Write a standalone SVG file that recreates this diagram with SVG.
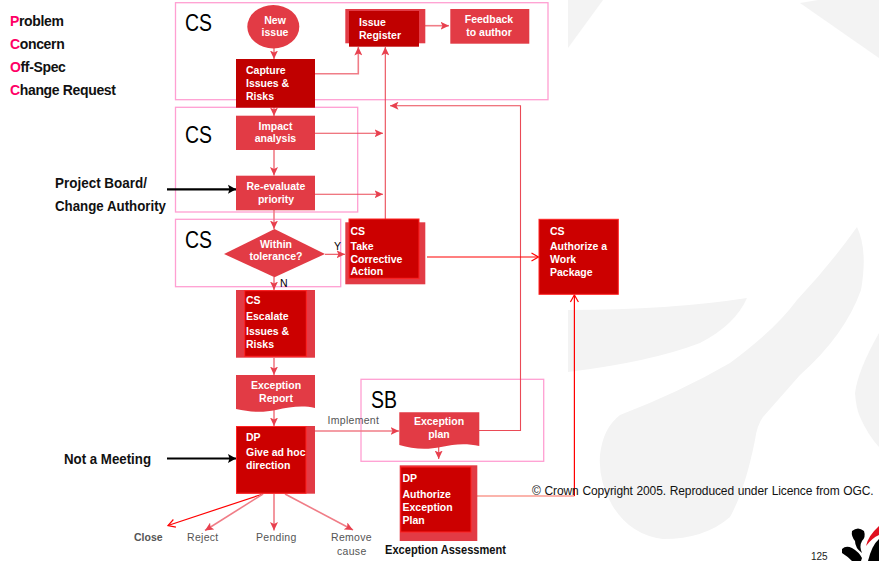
<svg xmlns="http://www.w3.org/2000/svg" width="879" height="561" viewBox="0 0 879 561">
<style>
text{font-family:"Liberation Sans",Arial,sans-serif}
.frame{fill:none;stroke:#ff9fd2;stroke-width:1.3}
.lab{font-size:23px;fill:#000}
.side{font-size:14px;font-weight:bold;fill:#111}
.tight{letter-spacing:-.35px}
.hot{fill:#ff0066}
.n{font-size:10.5px;font-weight:bold;fill:#fff}
.c{text-anchor:middle}
.small{font-size:10.5px;fill:#555;letter-spacing:.3px}
.mid{fill:#e23b45}
.dark{fill:#c00000}
.deep{fill:#cc0000;stroke:#ff2222;stroke-width:1}
.lt{fill:none;stroke:#f07d87;stroke-width:1.6}
.th{fill:none;stroke:#ea4a56;stroke-width:1.1}
.red{fill:none;stroke:#ff0000;stroke-width:1.2}
.blk{fill:none;stroke:#000;stroke-width:2.2}
</style>
<defs>
<marker id="a" markerUnits="userSpaceOnUse" markerWidth="9" markerHeight="8" refX="8.5" refY="4" orient="auto"><path d="M0,0L8.5,4L0,8L2,4Z" fill="#e8404e"/></marker>
<marker id="o" markerUnits="userSpaceOnUse" markerWidth="10" markerHeight="10" refX="8" refY="5" orient="auto"><path d="M1,1L8,5L1,9" fill="none" stroke="#ff0000" stroke-width="1.2"/></marker>
<marker id="b" markerUnits="userSpaceOnUse" markerWidth="9" markerHeight="10" refX="8" refY="5" orient="auto"><path d="M0,0.5L8,5L0,9.5L1.5,5Z" fill="#000"/></marker>
</defs>
<g id="watermark" fill="#f3f3f3">
<path d="M568,0H603L568,48Z"/>
<path d="M800,3L818,0H879V58Z"/>
<path d="M568,310Q670,310 747,298Q735,325 700,343Q650,362 568,372Z"/>
<path d="M857,227Q868,250 861,290Q845,335 800,375L763,417Q757,425 755,440Q745,490 730,517Q705,539 663,539Q630,535 612,505Q598,480 600,455Q603,428 620,415Q680,392 730,363Q775,330 797,300Q830,265 857,227Z"/>
<path d="M879,333Q858,370 855,393Q856,408 860,417Q868,435 879,447Z"/>
</g>
<g id="frames">
<rect class="frame" x="175.5" y="2.7" width="372.5" height="97"/>
<rect class="frame" x="175.5" y="107.3" width="182.2" height="104.7"/>
<rect class="frame" x="175.5" y="219.3" width="165.2" height="67.4"/>
<rect class="frame" x="361" y="379.3" width="182.7" height="82"/>
</g>
<g id="connectors">
<path class="lt" d="M274,48V59" marker-end="url(#a)"/>
<path class="lt" d="M315,73.7H358.3V47" marker-end="url(#a)"/>
<path class="lt" d="M425,25.7H449" marker-end="url(#a)"/>
<path class="lt" d="M274,107V116" marker-end="url(#a)"/>
<path class="lt" d="M274,150V175.5" marker-end="url(#a)"/>
<path class="lt" d="M274,210V229" marker-end="url(#a)"/>
<path class="th" d="M315,133.3H383" marker-end="url(#a)"/>
<path class="th" d="M315,194.3H383" marker-end="url(#a)"/>
<path class="th" d="M385.3,220V47" marker-end="url(#a)"/>
<path class="th" d="M479,430.5H520.5V105.7H390" marker-end="url(#a)"/>
<path class="th" d="M325,254.3H345" marker-end="url(#a)"/>
<path class="lt" d="M274,277V290" marker-end="url(#a)"/>
<path class="lt" d="M274,358V375" marker-end="url(#a)"/>
<path class="lt" d="M274,410V426" marker-end="url(#a)"/>
<path class="lt" d="M315,431H399" marker-end="url(#a)"/>
<path class="th" d="M438.7,446V459" marker-end="url(#a)"/>
<path class="red" d="M427,257H538.5" marker-end="url(#o)"/>
<path d="M477,496H574.4" fill="none" stroke="#f86a5a" stroke-width="1.2"/>
<path class="red" d="M574.4,496V295" marker-end="url(#o)"/>
<path class="red" d="M263,494L168,525.5" marker-end="url(#o)"/>
<path class="lt" d="M263,494L205,530.5" marker-end="url(#a)"/>
<path class="lt" d="M274,494V530.5" marker-end="url(#a)"/>
<path class="lt" d="M285,494L353,530" marker-end="url(#a)"/>
<path class="blk" d="M167,189.3H236" marker-end="url(#b)"/>
<path class="blk" d="M167,458.5H236" marker-end="url(#b)"/>
</g>
<g id="new-issue"><ellipse class="mid" cx="273.3" cy="26.7" rx="26" ry="21.7"/><text class="n c" x="275" y="24">New</text><text class="n c" x="275" y="36">issue</text></g>
<g id="capture"><rect class="dark" x="236" y="59" width="79" height="48.7"/><text class="n" x="246" y="74">Capture</text><text class="n" x="246" y="87">Issues &amp;</text><text class="n" x="246" y="100">Risks</text></g>
<g id="issue-register"><rect class="mid" x="345.3" y="9" width="80" height="34.3"/><rect class="dark" x="349" y="11" width="70" height="35.7"/><text class="n" x="359" y="26">Issue</text><text class="n" x="359" y="39">Register</text></g>
<g id="feedback"><rect class="mid" x="450.3" y="9" width="79" height="34.7"/><text class="n c" x="489" y="23">Feedback</text><text class="n c" x="489" y="36">to author</text></g>
<g id="impact"><rect class="mid" x="236" y="115.7" width="79" height="34.3"/><text class="n c" x="275.5" y="130">Impact</text><text class="n c" x="275.5" y="142">analysis</text></g>
<g id="reevaluate"><rect class="mid" x="236" y="175.7" width="79" height="34.6"/><text class="n c" x="276" y="190">Re-evaluate</text><text class="n c" x="276" y="203">priority</text></g>
<g id="tolerance"><path class="mid" d="M224,254L274.5,229L325,254L274.5,277.3Z"/><text class="n c" x="276" y="248">Within</text><text class="n c" x="276" y="260">tolerance?</text></g>
<g id="corrective"><rect class="mid" x="345.3" y="222.3" width="80" height="62"/><rect class="deep" x="349" y="219" width="70" height="59.3"/><text class="n" x="350.5" y="234.5">CS</text><text class="n" x="350.5" y="249.7">Take</text><text class="n" x="350.5" y="262.7">Corrective</text><text class="n" x="350.5" y="274.7">Action</text></g>
<g id="authorize-wp"><rect class="deep" x="539" y="219.3" width="79.3" height="75"/><text class="n" x="550" y="235">CS</text><text class="n" x="550" y="250">Authorize a</text><text class="n" x="550" y="262.7">Work</text><text class="n" x="550" y="276">Package</text></g>
<g id="escalate"><rect class="mid" x="236" y="290" width="79" height="67.7"/><rect class="deep" x="244.7" y="290.7" width="61.6" height="65.6"/><text class="n" x="246" y="304.3">CS</text><text class="n" x="246" y="319.7">Escalate</text><text class="n" x="246" y="334.7">Issues &amp;</text><text class="n" x="246" y="347.7">Risks</text></g>
<g id="exception-report"><path class="mid" d="M236,375H315V408C302,405 290,407 276,410C262,413 250,412 236,409Z"/><text class="n c" x="276" y="389.3">Exception</text><text class="n c" x="276" y="402">Report</text></g>
<g id="give-direction"><rect class="mid" x="236" y="426" width="79" height="67.7"/><rect class="deep" x="236.5" y="426.5" width="69.5" height="66.7"/><text class="n" x="246" y="440.7">DP</text><text class="n" x="246" y="455.7">Give ad hoc</text><text class="n" x="246" y="469">direction</text></g>
<g id="exception-plan"><path class="mid" d="M399.3,412.3H479.3V446C466,443 454,444 441,447C427,450 412,449 399.3,445Z"/><text class="n c" x="439" y="425">Exception</text><text class="n c" x="439" y="438.3">plan</text></g>
<g id="authorize-plan"><rect class="mid" x="399.7" y="465.3" width="77.6" height="75.7"/><rect class="deep" x="400.7" y="467" width="70.3" height="65"/><text class="n" x="402.5" y="482.3">DP</text><text class="n" x="402.5" y="497.7">Authorize</text><text class="n" x="402.5" y="511">Exception</text><text class="n" x="402.5" y="523.7">Plan</text></g>
<g id="labels">
<text class="lab" x="185" y="31" textLength="27" lengthAdjust="spacingAndGlyphs">CS</text>
<text class="lab" x="185" y="143" textLength="27" lengthAdjust="spacingAndGlyphs">CS</text>
<text class="lab" x="185" y="248" textLength="27" lengthAdjust="spacingAndGlyphs">CS</text>
<text class="lab" x="371" y="408" textLength="26" lengthAdjust="spacingAndGlyphs">SB</text>
<text class="side tight" x="10" y="25.7"><tspan class="hot">P</tspan>roblem</text>
<text class="side tight" x="10" y="49"><tspan class="hot">C</tspan>oncern</text>
<text class="side tight" x="10" y="72"><tspan class="hot">O</tspan>ff-Spec</text>
<text class="side tight" x="10" y="94.5"><tspan class="hot">C</tspan>hange Request</text>
<text class="side" x="55" y="188" textLength="92" lengthAdjust="spacingAndGlyphs">Project Board/</text>
<text class="side" x="55" y="210.5" textLength="111" lengthAdjust="spacingAndGlyphs">Change Authority</text>
<text class="side" x="64" y="464" textLength="87" lengthAdjust="spacingAndGlyphs">Not a Meeting</text>
<text class="small" x="327.5" y="423.7">Implement</text>
<text style="font-size:10.5px;font-weight:bold;fill:#555" x="134" y="541">Close</text>
<text class="small" x="187" y="541">Reject</text>
<text class="small" x="256" y="541">Pending</text>
<text class="small" x="331" y="541">Remove</text>
<text class="small" x="337" y="554.5">cause</text>
<text style="font-size:12px;font-weight:bold;fill:#111" x="385" y="554" textLength="121" lengthAdjust="spacingAndGlyphs">Exception Assessment</text>
<text class="small" style="fill:#000" x="334" y="249.5">Y</text>
<text class="small" style="fill:#000" x="280" y="287">N</text>
<text style="font-size:12px;fill:#111;word-spacing:.6px;letter-spacing:-.12px" x="532" y="494.5">© Crown Copyright 2005. Reproduced under Licence from OGC.</text>
<text style="font-size:10px;fill:#222" x="811" y="559.5">125</text>
</g>
<g id="logo">
<path d="M852,531Q858,526 864,531Q866,537 862,541Q859,546 862,553Q855,548 855,541Q851,536 852,531Z" fill="#000"/>
<path d="M842,549Q846,545 852,548Q859,552 862,558L861,561H852Q847,556 842,553Z" fill="#000"/>
<path d="M866,546Q868,536 879,526V535Q872,538 866,546Z" fill="#e01020"/>
<path d="M868,561Q872,545 879,539V561Z" fill="#000"/>
</g>
</svg>
